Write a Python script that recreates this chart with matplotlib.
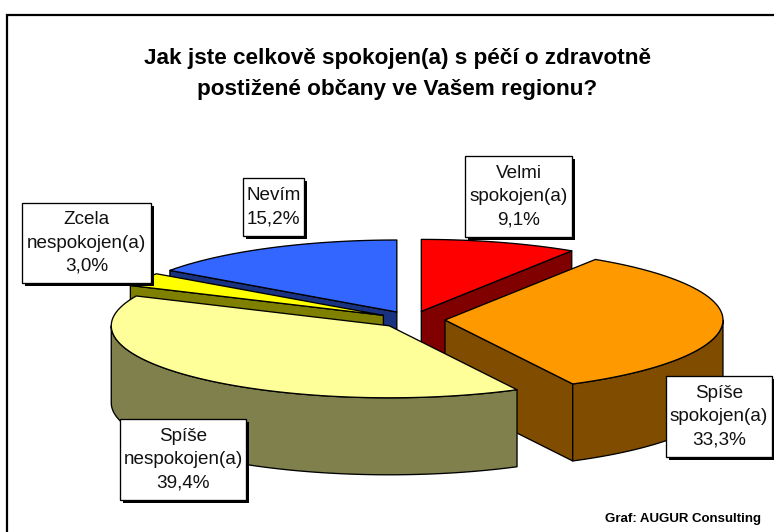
import numpy as np
import matplotlib
matplotlib.use("Agg")
import matplotlib.pyplot as plt
from matplotlib.patches import Polygon, Rectangle

plt.rcParams["font.family"] = ["Liberation Sans", "DejaVu Sans"]

TITLE = "Jak jste celkově spokojen(a) s péčí o zdravotně\npostižené občany ve Vašem regionu?"
CREDIT = "Graf: AUGUR Consulting"

LABELS = ["Velmi\nspokojen(a)", "Spíše\nspokojen(a)", "Spíše\nnespokojen(a)", "Zcela\nnespokojen(a)", "Nevím"]
VALUES = [9.1, 33.3, 39.4, 3.0, 15.2]
TOP_COLORS = ["#FF0000", "#FF9900", "#FFFF99", "#FFFF00", "#3366FF"]
SIDE_COLORS = ["#800000", "#804D00", "#80804D", "#808000", "#1A3380"]

# label boxes in pixels: left, top, right, bottom
BOXES = [(465, 156, 572, 237), (666, 376, 772, 457), (120, 419, 246, 500), (22, 203, 151, 283), (243, 178, 304, 236)]

# pie geometry in pixels
CX, CY = 412, 319.6
RX, RY = 278, 72
DEPTH = 77
EXPLODE = 33
LW = 0.95


def rim(theta, ox, oy):
  return np.column_stack([ox + RX * np.sin(theta), oy - RY * np.cos(theta)])


def draw_slice(ax, start, end, top, side, zorder):
  mid = (start + end) / 2
  ox = CX + EXPLODE * np.sin(mid)
  oy = CY - EXPLODE * RY / RX * np.cos(mid)
  down = np.array([0, DEPTH])
  apex = np.array([ox, oy])
  style = dict(edgecolor="black", linewidth=LW, joinstyle="round", zorder=zorder)

  # flat cut faces that look towards the viewer
  for angle, visible in ((start, np.sin(start) < -1e-6), (end, np.sin(end) > 1e-6)):
    if visible:
      edge = rim(np.array([angle]), ox, oy)[0]
      ax.add_patch(Polygon([apex, edge, edge + down, apex + down], facecolor=side, **style))

  # curved outer wall, front half only
  lo, hi = max(start, np.pi / 2), min(end, 3 * np.pi / 2)
  if lo < hi:
    arc = rim(np.linspace(lo, hi, 120), ox, oy)
    ax.add_patch(Polygon(np.vstack([arc, arc[::-1] + down]), facecolor=side, **style))

  arc = rim(np.linspace(start, end, 160), ox, oy)
  ax.add_patch(Polygon(np.vstack([apex, arc]), facecolor=top, **style))


fig = plt.figure(figsize=(7.74, 5.32), dpi=100)
ax = fig.add_axes([0, 0, 1, 1])
ax.set_xlim(0, 774)
ax.set_ylim(532, 0)
ax.axis("off")

# chart frame, open on the right and at the bottom
ax.plot([7, 7, 774], [532, 15, 15], color="black", linewidth=1.6, solid_joinstyle="miter", zorder=1)

ax.text(397, 74, TITLE, ha="center", va="center", fontsize=16.2, fontweight="bold", linespacing=1.57)
ax.text(761, 519, CREDIT, ha="right", va="center", fontsize=9.5, fontweight="bold")

edges = np.radians(np.concatenate([[0], np.cumsum(VALUES)]) * 3.6)
# back slices first, the large front one last
for order, i in enumerate([0, 4, 3, 1, 2]):
  draw_slice(ax, edges[i], edges[i + 1], TOP_COLORS[i], SIDE_COLORS[i], 2 + order)

for label, value, (left, top, right, bottom) in zip(LABELS, VALUES, BOXES):
  ax.add_patch(Rectangle((left + 3, top + 3), right - left, bottom - top, facecolor="black", edgecolor="none", zorder=10))
  ax.add_patch(Rectangle((left, top), right - left, bottom - top, facecolor="white", edgecolor="black", linewidth=LW, zorder=11))
  text = f"{label}\n{value:.1f}%".replace(".", ",")
  ax.text((left + right) / 2, (top + bottom) / 2, text, ha="center", va="center", fontsize=13.6, linespacing=1.48, color="#111111", zorder=12)

fig.savefig("out.png", dpi=100)
plt.close(fig)
